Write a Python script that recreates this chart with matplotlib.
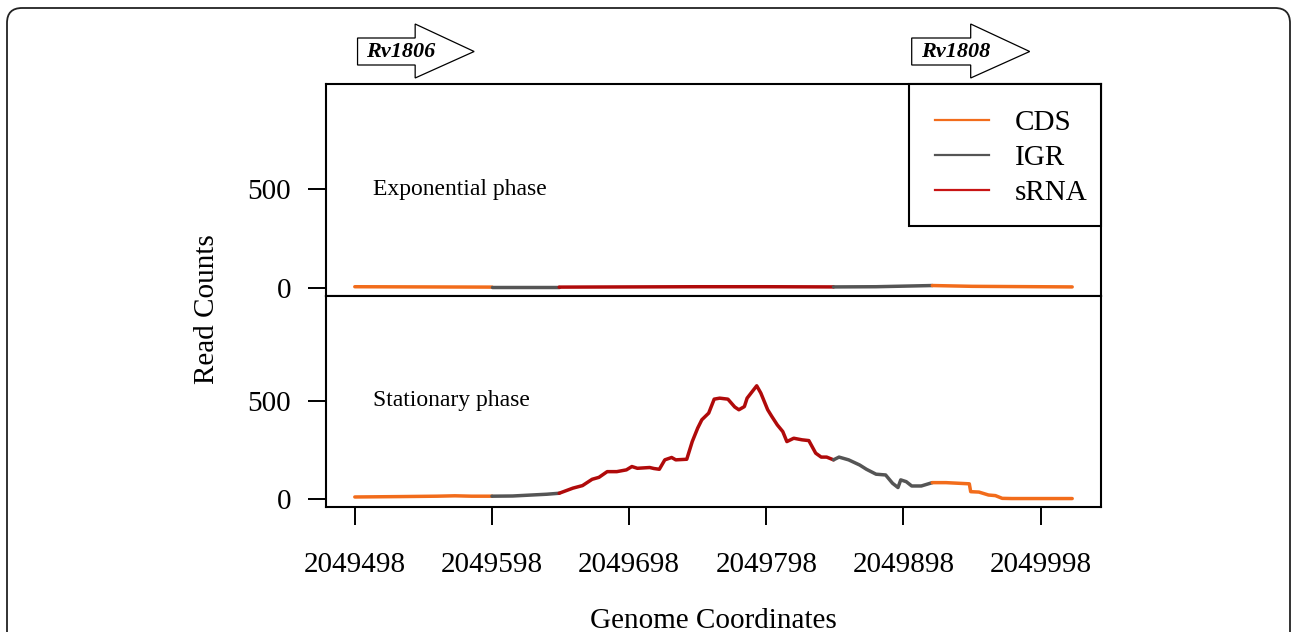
import matplotlib
matplotlib.use("Agg")
import matplotlib.pyplot as plt
import numpy as np
from matplotlib.patches import FancyBboxPatch, Polygon, Rectangle
from matplotlib.transforms import blended_transform_factory

plt.rcParams["font.family"] = ["Liberation Serif", "DejaVu Serif"]

# ---------------------------------------------------------------- data
START = 2049498
X_TICKS = [START + 100 * k for k in range(6)]
Y_TICKS = [0, 500]

# region boundaries (offset from START) and their type
REGION_EDGES = [0, 100, 149, 349, 421, 523]
REGION_TYPES = ["CDS", "IGR", "sRNA", "IGR", "CDS"]

# exponential phase coverage (offset, read count)
exp_off = [0, 50, 100, 149, 200, 250, 300, 349, 380, 421, 450, 523]
exp_val = [6, 5, 4, 4, 5, 6, 6, 5, 6, 12, 8, 5]

# stationary phase coverage (offset, read count)
stat_off = [0, 33, 60, 73, 85, 100, 115, 140, 149, 159, 166, 173, 178, 184,
            191, 198, 202, 206, 215, 218, 222, 226, 231, 234, 242, 246, 250,
            253, 258, 262, 266, 272, 277, 280, 284, 286, 293, 296, 301, 304,
            308, 312, 315, 320, 326, 331, 336, 340, 344, 349, 353, 360, 368,
            373, 380, 387, 392, 396, 398, 402, 406, 413, 421, 431, 448, 449,
            455, 462, 467, 472, 479, 523]
stat_val = [10, 12, 14, 16, 14, 14, 15, 24, 29, 55, 68, 100, 110, 139,
            139, 148, 165, 156, 160, 155, 151, 199, 211, 199, 202, 292, 361,
            403, 437, 508, 513, 508, 468, 454, 470, 513, 576, 539, 454, 420,
            377, 343, 292, 309, 301, 297, 233, 213, 213, 199, 213, 199, 173,
            151, 126, 122, 80, 58, 97, 88, 66, 66, 83, 83, 77, 37,
            35, 20, 17, 3, 2, 2]

# gene arrows: name, start offset, end offset
GENES = [("Rv1806", 2, 87), ("Rv1808", 406, 492)]

LEGEND_LABELS = ["CDS", "IGR", "sRNA"]
COLORS = {"CDS": "#F26C1B", "IGR": "#555555", "sRNA": "#B00A0A"}
LEGEND_COLORS = {"CDS": "#F26C1B", "IGR": "#555555", "sRNA": "#C81414"}

# ---------------------------------------------------------------- figure
W, H = 1292, 632
fig = plt.figure(figsize=(W / 100, H / 100), dpi=100)

# rounded outer frame (runs off the bottom edge)
frame = FancyBboxPatch((0.07, -0.5), 12.83, 6.74,
                       boxstyle="round,pad=0,rounding_size=0.15",
                       transform=fig.dpi_scale_trans, fill=False,
                       edgecolor="#222222", linewidth=1.3)
fig.add_artist(frame)

left, right = 326 / W, 1101 / W
ax_top = fig.add_axes([left, 1 - 296 / H, right - left, 212 / H])
ax_bot = fig.add_axes([left, 1 - 507 / H, right - left, 211 / H])

XLIM = (START - 21, START + 544)
YLIM = (-41, 1033)


def plot_coverage(ax, off, val):
    off = np.asarray(off)
    val = np.asarray(val)
    x = START + off
    for (a, b), kind in zip(zip(REGION_EDGES[:-1], REGION_EDGES[1:]), REGION_TYPES):
        m = (off >= a) & (off <= b)
        ax.plot(x[m], val[m], color=COLORS[kind], linewidth=2.5,
                solid_capstyle="round", zorder=3)


for ax, off, val, label in [(ax_top, exp_off, exp_val, "Exponential phase"),
                            (ax_bot, stat_off, stat_val, "Stationary phase")]:
    plot_coverage(ax, off, val)
    ax.set_xlim(*XLIM)
    ax.set_ylim(*YLIM)
    ax.set_yticks(Y_TICKS)
    ax.set_yticklabels([str(v) for v in Y_TICKS])
    ax.tick_params(axis="y", length=13, width=1.4, pad=12, labelsize=21)
    for sp in ax.spines.values():
        sp.set_linewidth(1.5)
    ax.text(START + 13, 500, label, fontsize=17, ha="left", va="center")

ax_top.set_xticks([])
ax_bot.set_xticks(X_TICKS)
ax_bot.set_xticklabels([str(v) for v in X_TICKS])
ax_bot.tick_params(axis="x", length=13, width=1.4, pad=19.5, labelsize=21)

# legend box in the top-right corner of the upper panel (R style)
ax_top.add_patch(Rectangle((0.7523, 0.330), 0.2477, 0.670, transform=ax_top.transAxes,
                           facecolor="white", edgecolor="black", linewidth=1.5,
                           zorder=5, clip_on=False))
for i, name in enumerate(LEGEND_LABELS):
    yy = 0.830 - i * 0.165
    ax_top.plot([0.7858, 0.8555], [yy, yy], transform=ax_top.transAxes,
                color=LEGEND_COLORS[name], linewidth=1.6, zorder=6)
    ax_top.text(0.889, yy - 0.014, name, transform=ax_top.transAxes, fontsize=21,
                ha="left", va="center", zorder=6)

fig.text(207 / W, 1 - 309 / H, "Read Counts", rotation=90, fontsize=21,
         ha="center", va="center")
fig.text(713 / W, 1 - 621 / H, "Genome Coordinates", fontsize=21,
         ha="center", va="center")

# gene arrows above the panels
trans = blended_transform_factory(ax_top.transData, fig.transFigure)
for name, a, b in GENES:
    x0, x1 = START + a, START + b
    xh = x1 - 43
    body_t, body_b = 1 - 38 / H, 1 - 65 / H
    head_t, head_b = 1 - 24 / H, 1 - 78 / H
    tip = 1 - 51.5 / H
    poly = Polygon([(x0, body_b), (x0, body_t), (xh, body_t), (xh, head_t),
                    (x1, tip), (xh, head_b), (xh, body_b)], closed=True,
                   facecolor="white", edgecolor="black", linewidth=0.9,
                   transform=trans, clip_on=False)
    fig.add_artist(poly)
    fig.text(x0 + 6.5, 1 - 52 / H, name, transform=trans, fontsize=16,
             fontweight="bold", fontstyle="italic", ha="left", va="center")

fig.savefig("out.png", dpi=100)
